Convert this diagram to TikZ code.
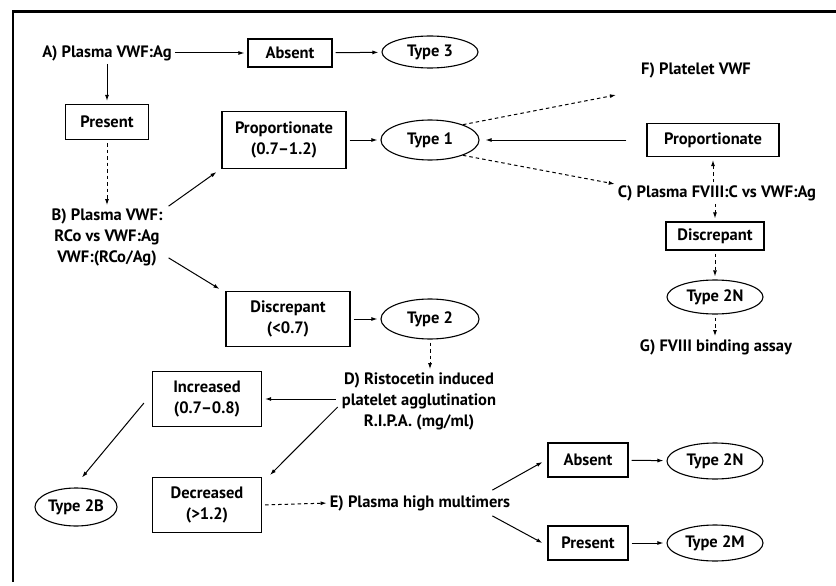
\documentclass[tikz,border=0pt]{standalone}
\usepackage{fontspec}
\setmainfont{PT Sans}
\usetikzlibrary{shapes.geometric,arrows.meta}
\begin{document}
\begin{tikzpicture}[x=1pt,y=-1pt,
  every node/.style={font=\fontsize{16.5}{21}\selectfont\bfseries, inner sep=0pt},
  box/.style={draw, line width=1.1pt, align=center},
  oval/.style={draw, ellipse, line width=1.1pt},
  lbl/.style={align=center},
  arr/.style={-{Latex[length=6pt,width=4pt]}, line width=1pt, shorten <=3pt, shorten >=3pt},
  darr/.style={arr, dash pattern=on 3.5pt off 3pt},
]
\useasboundingbox (0,0) rectangle (836,586);
\draw[line width=3pt] (12,12) -- (836,12);
\draw[line width=2.6pt] (13,11) -- (13,582);

% nodes
\node[lbl] (A) at (107,53) {A) Plasma VWF:Ag};
\node[box, minimum width=84, minimum height=28] (abs1) at (290,53) {Absent};
\node[oval, minimum width=96, minimum height=32] (t3) at (430,52) {Type 3};
\node[box, minimum width=83, minimum height=35] (pres1) at (107,122) {Present};
\node[box, minimum width=124, minimum height=57] (propL) at (284,140) {Proportionate\\(0.7–1.2)};
\node[oval, minimum width=98, minimum height=40] (t1) at (430,140) {Type 1};
\node[lbl] (B) at (107,237) {B) Plasma VWF:\\RCo vs VWF:Ag\\VWF:(RCo/Ag)};
\node[box, minimum width=124, minimum height=55] (discL) at (288,319) {Discrepant\\(<0.7)};
\node[oval, minimum width=98, minimum height=40] (t2) at (430,319) {Type 2};
\node[lbl] (F) at (696,70) {F) Platelet VWF};
\node[box, minimum width=132, minimum height=33] (propR) at (713,140) {Proportionate};
\node[lbl] (C) at (717,193) {C) Plasma FVIII:C vs VWF:Ag};
\node[box, minimum width=98, minimum height=28] (discR) at (715,236) {Discrepant};
\node[oval, minimum width=96, minimum height=34] (t2nR) at (715,297) {Type 2N};
\node[lbl] (G) at (716,347) {G) FVIII binding assay};
\node[lbl] (D) at (419,401) {D) Ristocetin induced\\platelet agglutination\\R.I.P.A. (mg/ml)};
\node[box, minimum width=109, minimum height=55] (incr) at (207,399) {Increased\\(0.7–0.8)};
\node[box, minimum width=109, minimum height=55] (decr) at (207,505) {Decreased\\(>1.2)};
\node[oval, minimum width=82, minimum height=38] (t2b) at (76,507) {Type 2B};
\node[lbl] (E) at (420,503) {E) Plasma high multimers};
\node[box, minimum width=80, minimum height=34] (abs2) at (588,460) {Absent};
\node[box, minimum width=80, minimum height=34] (pres2) at (588,543) {Present};
\node[oval, minimum width=96, minimum height=36] (t2nb) at (715,461) {Type 2N};
\node[oval, minimum width=96, minimum height=36] (t2m) at (715,543) {Type 2M};

% connectors
\draw[arr] (A) -- (abs1);
\draw[arr] (abs1) -- (t3);
\draw[arr] (A) -- (pres1);
\draw[darr] (pres1) -- (B);
\draw[arr, shorten <=0pt, shorten >=0pt] ([shift={(6,-2)}]B.north east) -- ([shift={(-5,3)}]propL.south west);
\draw[arr, shorten <=0pt, shorten >=0pt] ([shift={(6,-8)}]B.south east) -- ([shift={(-6,-2)}]discL.north west);
\draw[arr] (propL) -- (t1);
\draw[arr] (discL) -- (t2);
\draw[darr, shorten <=0pt, shorten >=0pt] (t1.25) -- ([shift={(-25,25)}]F.west);
\draw[arr, shorten <=0pt, shorten >=0pt] ([xshift=-20pt]propR.west) -- ([xshift=6pt]t1.east);
\draw[darr, shorten <=0pt, shorten >=0pt] (t1.-25) -- ([shift={(-3,-9)}]C.west);
\draw[darr] (C.north -| propR.south) -- (propR.south);
\draw[darr] (C.south -| discR.north) -- (discR.north);
\draw[darr] (discR) -- (t2nR);
\draw[darr] (t2nR.south) -- (t2nR.south |- G.north);
\draw[darr] (t2.south) -- (t2.south |- D.north);
\draw[arr, shorten <=0pt] ([xshift=-6pt]D.west |- incr.east) -- (incr.east);
\draw[arr, shorten <=0pt, shorten >=0pt] ([shift={(-4,6)}]D.west) -- ([shift={(8,-2)}]decr.north east);
\draw[arr, shorten <=0pt, shorten >=0pt] ([shift={(-8,4)}]incr.west) -- ([shift={(6,-10)}]t2b.north);
\draw[darr] (decr.east) -- (E.west);
\draw[arr, shorten <=0pt, shorten >=0pt] ([shift={(-18,-5)}]E.north east) -- ([shift={(-5,2)}]abs2.west);
\draw[arr, shorten <=0pt, shorten >=0pt] ([shift={(-18,5)}]E.south east) -- ([shift={(-5,0)}]pres2.west);
\draw[arr] (abs2) -- (t2nb);
\draw[arr] (pres2) -- (t2m);
\end{tikzpicture}
\end{document}
